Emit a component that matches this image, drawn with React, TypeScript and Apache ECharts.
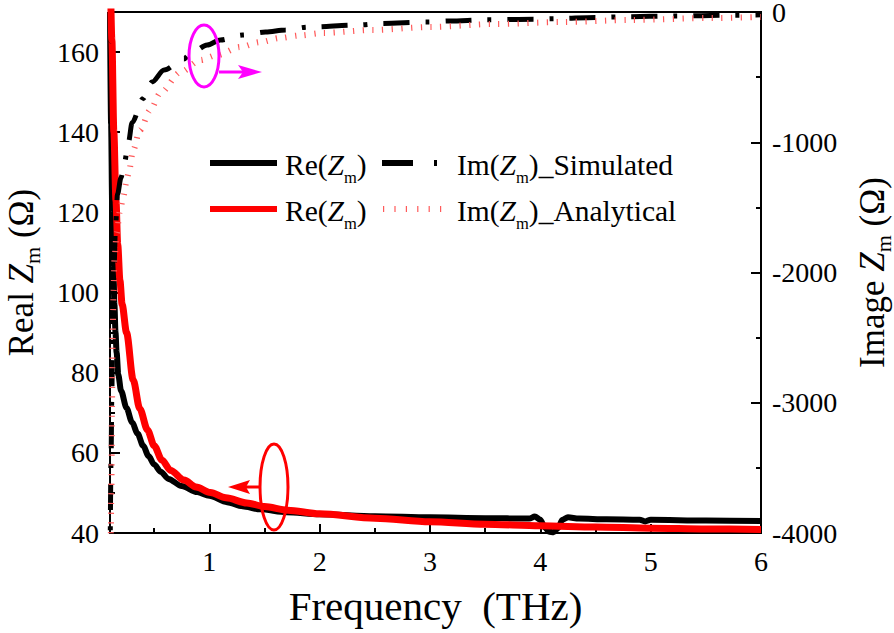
import React, { useEffect, useRef } from 'react';
import * as echarts from 'echarts';

// ---- data (frequency in THz, values in Ohm) ----
const reSimulated: [number, number][] = [
  [0.1, 170], [0.11, 142], [0.12, 121], [0.13, 107], [0.14, 97], [0.15, 90], [0.16, 85], [0.175, 79.5],
  [0.2, 75.5], [0.25, 71.2], [0.3, 67.6], [0.35, 64.8], [0.4, 61.8], [0.45, 59.2], [0.5, 57.1], [0.56, 55.3],
  [0.63, 53.5], [0.75, 51.7], [0.89, 50.2], [1.0, 49.3], [1.16, 47.7], [1.3, 46.7], [1.46, 45.9], [1.7, 45.2],
  [2.0, 44.7], [2.5, 44.2], [3.0, 43.9], [3.5, 43.7], [3.9, 43.6], [3.95, 44.1], [4.0, 43.3], [4.04, 41.4],
  [4.08, 40.3], [4.12, 40.2], [4.16, 41.2], [4.2, 43.3], [4.25, 43.9], [4.35, 43.6], [4.6, 43.4], [4.9, 43.3],
  [4.95, 42.9], [5.0, 43.3], [5.5, 43.1], [6.0, 43.0],
];

const reAnalytical: [number, number][] = [
  [0.1, 185], [0.117, 163], [0.135, 140], [0.154, 123], [0.17, 112], [0.19, 103], [0.21, 97], [0.25, 90],
  [0.31, 78.2], [0.37, 71], [0.44, 65.7], [0.5, 61.8], [0.57, 58.2], [0.65, 55.6], [0.77, 53.2], [0.88, 51.5],
  [1.01, 50.1], [1.15, 48.8], [1.34, 47.5], [1.5, 46.6], [1.71, 45.7], [2.0, 44.8], [2.5, 43.7], [3.0, 42.8],
  [3.5, 42.2], [4.0, 41.8], [4.5, 41.5], [5.0, 41.2], [5.5, 41.0], [6.0, 40.9],
];

const imSimulated: [number, number][] = [
  [0.1, -4300], [0.11, -3400], [0.117, -2900], [0.125, -2400], [0.135, -2000], [0.15, -1650], [0.168, -1400],
  [0.2, -1270], [0.229, -1164], [0.268, -997], [0.3, -850], [0.4, -664], [0.48, -538], [0.59, -446],
  [0.77, -360], [0.83, -320], [0.98, -254], [1.1, -215], [1.3, -177], [1.51, -154], [1.69, -138], [1.89, -116],
  [2.36, -100], [2.55, -88], [2.98, -77], [3.18, -69], [3.5, -60], [3.96, -55], [4.13, -51], [4.5, -42],
  [4.78, -36], [5.2, -31], [5.72, -25], [6.0, -22],
];

const imAnalytical: [number, number][] = [
  [0.105, -4300], [0.113, -3650], [0.118, -3000], [0.124, -2500], [0.132, -2150], [0.14, -1900], [0.16, -1700],
  [0.19, -1530], [0.22, -1420], [0.25, -1300], [0.27, -1230], [0.31, -1061], [0.37, -908], [0.465, -754],
  [0.555, -623], [0.74, -461], [0.92, -369], [1.07, -331], [1.28, -269], [1.46, -231], [1.64, -200],
  [1.82, -180], [2.03, -161], [2.48, -138], [3.0, -115], [3.58, -92], [4.2, -77], [4.82, -61], [5.57, -46],
  [6.0, -38],
];

const xTicks = [1, 2, 3, 4, 5, 6];
const xMinorTicks = [0.5, 1.5, 2.5, 3.5, 4.5, 5.5];
const leftTicks = [40, 60, 80, 100, 120, 140, 160];
const leftMinorTicks = [50, 70, 90, 110, 130, 150];

const legendTexts = ['{n|Re(}{i|Z}{s|m}{n|)}', '{n|Im(}{i|Z}{s|m}{n|)_Simulated}', '{n|Re(}{i|Z}{s|m}{n|)}', '{n|Im(}{i|Z}{s|m}{n|)_Analytical}'];

const FONT = 'Liberation Serif';

// main tokens aligned to top of line, subscript pushed down with top padding
function richFor(main: number, mainLh: number, sub: number, subLh: number, pad: number) {
  const base = { fontFamily: FONT, color: '#000', fontWeight: 'normal' };
  return {
    n: { ...base, fontSize: main, lineHeight: mainLh, verticalAlign: 'top' },
    i: { ...base, fontSize: main, lineHeight: mainLh, fontStyle: 'italic', verticalAlign: 'top' },
    s: { ...base, fontSize: sub, lineHeight: subLh, padding: [pad, 0, 0, 0], verticalAlign: 'top' },
  };
}

export default function App() {
  const ref = useRef<HTMLDivElement>(null);
  useEffect(() => {
    if (!ref.current) return;
    const chart = echarts.init(ref.current, undefined, { renderer: 'svg' });
    const black = '#000';
    const legendRich = richFor(29.5, 29, 16.5, 14, 19.5);
    const titleRich = richFor(35, 30, 22, 16, 17);
    const legendPos = [[285, 149.5], [457, 149.5], [285, 195.5], [457, 195.5]];
    const option: any = {
      animation: false,
      backgroundColor: '#fff',
      textStyle: { fontFamily: FONT },
      title: legendTexts.map((t, k) => ({
        text: t, left: legendPos[k][0], top: legendPos[k][1], padding: 0, itemGap: 0,
        textStyle: { fontFamily: FONT, fontSize: 29.5, fontWeight: 'normal', color: black, rich: legendRich },
      })),
      grid: {
        left: 110, top: 12, right: 133, bottom: 100,
        show: true, borderColor: black, borderWidth: 2, backgroundColor: 'transparent',
        outerBoundsMode: 'none',
      },
      xAxis: [
        {
          type: 'value', min: 0.1, max: 6, position: 'bottom',
          name: 'Frequency\u00a0\u00a0(THz)', nameLocation: 'middle', nameGap: 53,
          nameTextStyle: { fontFamily: FONT, fontSize: 41, color: black, lineHeight: 40 },
          axisLine: { show: true, onZero: false, lineStyle: { color: black, width: 2 } },
          axisTick: { show: true, inside: true, length: 9, customValues: xTicks, lineStyle: { color: black, width: 2 } },
          axisLabel: { show: true, customValues: xTicks, margin: 14, color: black, fontFamily: FONT, fontSize: 28 },
          splitLine: { show: false },
        },
        {
          type: 'value', min: 0.1, max: 6, position: 'bottom',
          axisLine: { show: false, onZero: false },
          axisTick: { show: true, inside: true, length: 5, customValues: xMinorTicks, lineStyle: { color: black, width: 2 } },
          axisLabel: { show: false },
          splitLine: { show: false },
        },
      ],
      yAxis: [
        {
          type: 'value', min: 40, max: 170, position: 'left',
          name: '{n|Real }{i|Z}{s|m}{n| (Ω)}', nameLocation: 'middle', nameRotate: 90, nameGap: 76,
          nameTextStyle: { fontFamily: FONT, fontSize: 35, color: black, rich: titleRich },
          axisLine: { show: true, onZero: false, lineStyle: { color: black, width: 2 } },
          axisTick: { show: true, inside: true, length: 10, customValues: leftTicks, lineStyle: { color: black, width: 2 } },
          axisLabel: { show: true, customValues: leftTicks, margin: 11, color: black, fontFamily: FONT, fontSize: 28 },
          splitLine: { show: false },
        },
        {
          type: 'value', min: -4000, max: 0, interval: 1000, position: 'right',
          name: '{n|Image }{i|Z}{s|m}{n| (Ω)}', nameLocation: 'middle', nameRotate: 90, nameGap: 94,
          nameTextStyle: { fontFamily: FONT, fontSize: 35, color: black, rich: titleRich },
          axisLine: { show: true, onZero: false, lineStyle: { color: black, width: 2 } },
          axisTick: { show: true, inside: true, length: 10, lineStyle: { color: black, width: 2 } },
          minorTick: { show: true, splitNumber: 2, length: 5, lineStyle: { color: black, width: 2 } },
          axisLabel: { show: true, margin: 11, color: black, fontFamily: FONT, fontSize: 28, lineHeight: 22, formatter: (v: number) => String(v) },
          splitLine: { show: false },
          minorSplitLine: { show: false },
        },
        {
          type: 'value', min: 40, max: 170, position: 'left',
          axisLine: { show: false, onZero: false },
          axisTick: { show: true, inside: true, length: 5, customValues: leftMinorTicks, lineStyle: { color: black, width: 2 } },
          axisLabel: { show: false },
          splitLine: { show: false },
        },
      ],
      series: [
        {
          type: 'line', name: 'Re(Zm) simulated', data: reSimulated, xAxisIndex: 0, yAxisIndex: 0,
          symbol: 'none', smooth: 0.3, smoothMonotone: 'x', z: 2,
          lineStyle: { color: black, width: 6 },
        },
        {
          type: 'line', name: 'Re(Zm) analytical', data: reAnalytical, xAxisIndex: 0, yAxisIndex: 0,
          symbol: 'none', smooth: 0.3, smoothMonotone: 'x', z: 3,
          lineStyle: { color: '#ff0000', width: 7 },
        },
        {
          type: 'line', name: 'Im(Zm)_Simulated', data: imSimulated, xAxisIndex: 0, yAxisIndex: 1,
          symbol: 'none', smooth: 0.3, smoothMonotone: 'x', z: 4,
          lineStyle: { color: black, width: 5, type: [26, 16, 4, 16], cap: 'butt' },
        },
        {
          type: 'line', name: 'Im(Zm)_Analytical', data: imAnalytical, xAxisIndex: 0, yAxisIndex: 1,
          symbol: 'none', smooth: 0.3, smoothMonotone: 'x', z: 5,
          lineStyle: { color: '#ff5a5a', width: 6, type: [1.2, 8.5], cap: 'butt' },
        },
      ],
      graphic: [
        // legend symbols
        { type: 'line', shape: { x1: 210, y1: 163, x2: 277, y2: 163 }, style: { stroke: black, lineWidth: 6 }, z: 10 },
        { type: 'line', shape: { x1: 210, y1: 209, x2: 277, y2: 209 }, style: { stroke: '#ff0000', lineWidth: 6 }, z: 10 },
        { type: 'line', shape: { x1: 382, y1: 163, x2: 438, y2: 163 }, style: { stroke: black, lineWidth: 6, lineDash: [31, 21, 3, 100] }, z: 10 },
        { type: 'line', shape: { x1: 383, y1: 209, x2: 442, y2: 209 }, style: { stroke: '#ff5a5a', lineWidth: 6, lineDash: [1.2, 10.2] }, z: 10 },
        // annotations
        { type: 'ellipse', shape: { cx: 204, cy: 56, rx: 15, ry: 31 }, style: { fill: 'none', stroke: '#ff00ff', lineWidth: 3 }, z: 11 },
        { type: 'line', shape: { x1: 219, y1: 72, x2: 245, y2: 72 }, style: { stroke: '#ff00ff', lineWidth: 3 }, z: 11 },
        { type: 'polygon', shape: { points: [[262, 72], [238, 65], [243, 72], [238, 79]] }, style: { fill: '#ff00ff' }, z: 11 },
        { type: 'ellipse', shape: { cx: 274, cy: 487, rx: 14, ry: 43 }, style: { fill: 'none', stroke: '#ff0000', lineWidth: 3 }, z: 11 },
        { type: 'line', shape: { x1: 260, y1: 487, x2: 242, y2: 487 }, style: { stroke: '#ff0000', lineWidth: 3 }, z: 11 },
        { type: 'polygon', shape: { points: [[228, 487], [250, 480], [246, 487], [250, 494]] }, style: { fill: '#ff0000' }, z: 11 },
      ],
    };
    chart.setOption(option);
    return () => chart.dispose();
  }, []);
  return <div ref={ref} style={{ position: 'absolute', left: 0, top: 0, width: 894, height: 633 }} />;
}
